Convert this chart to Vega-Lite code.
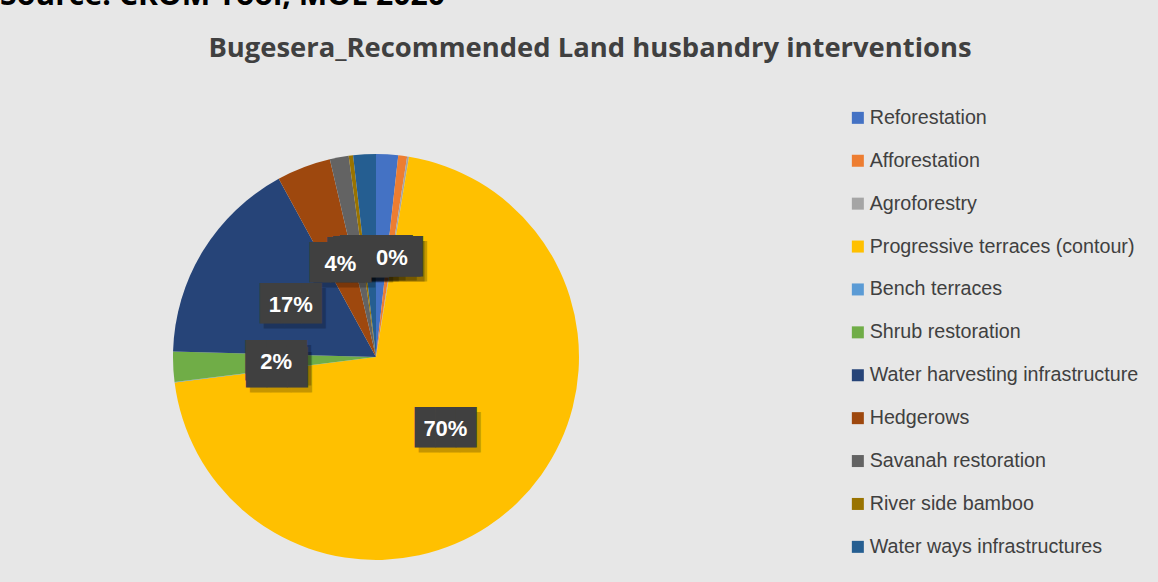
{
  "$schema": "https://vega.github.io/schema/vega-lite/v6.json",
  "autosize": "none",
  "padding": {"left": 173, "top": 154, "right": 985, "bottom": 428},
  "background": "#e7e7e7",
  "title": {
    "text": "Source: CROM Tool, MOE 2020",
    "anchor": "start",
    "frame": "group",
    "dx": -173,
    "offset": -1,
    "baseline": "alphabetic",
    "font": "Open Sans",
    "fontSize": 30.2,
    "fontWeight": "bold",
    "color": "#000000"
  },
  "hconcat": [
    {
      "width": 406,
      "height": 406,
      "title": {
        "text": "Bugesera_Recommended Land husbandry interventions",
        "anchor": "middle",
        "frame": "group",
        "dx": 214,
        "offset": 70,
        "baseline": "alphabetic",
        "font": "Open Sans",
        "fontSize": 27.4,
        "fontWeight": "bold",
        "color": "#404040"
      },
      "data": {
        "values": [
          {"n": 1, "intervention": "Reforestation", "share": 0.0175},
          {"n": 2, "intervention": "Afforestation", "share": 0.007},
          {"n": 3, "intervention": "Agroforestry", "share": 0.0015},
          {"n": 4, "intervention": "Progressive terraces (contour)", "share": 0.7035},
          {"n": 5, "intervention": "Bench terraces", "share": 0.0005},
          {"n": 6, "intervention": "Shrub restoration", "share": 0.024},
          {"n": 7, "intervention": "Water harvesting infrastructure", "share": 0.166},
          {"n": 8, "intervention": "Hedgerows", "share": 0.043},
          {"n": 9, "intervention": "Savanah restoration", "share": 0.015},
          {"n": 10, "intervention": "River side bamboo", "share": 0.0035},
          {"n": 11, "intervention": "Water ways infrastructures", "share": 0.018}
        ]
      },
      "encoding": {
        "theta": {"field": "share", "type": "quantitative", "stack": true},
        "order": {"field": "n", "type": "quantitative"}
      },
      "layer": [
        {
          "mark": {"type": "arc"},
          "encoding": {
            "color": {
              "field": "intervention",
              "type": "nominal",
              "scale": {
                "domain": ["Reforestation", "Afforestation", "Agroforestry", "Progressive terraces (contour)", "Bench terraces", "Shrub restoration", "Water harvesting infrastructure", "Hedgerows", "Savanah restoration", "River side bamboo", "Water ways infrastructures"],
                "range": ["#4472C4", "#ED7D31", "#A5A5A5", "#FFC000", "#5B9BD5", "#70AD47", "#264478", "#9E480E", "#636363", "#997300", "#255E91"]
              },
              "legend": {
                "orient": "none",
                "legendX": 675,
                "legendY": -46,
                "title": null,
                "symbolType": "square",
                "symbolSize": 144,
                "symbolStrokeWidth": 0,
                "labelFont": "Liberation Sans",
                "labelFontSize": 19.7,
                "labelColor": "#404040",
                "labelOffset": 2,
                "labelLimit": 400,
                "rowPadding": 21.9,
                "padding": 0
              }
            }
          }
        },
        {
          "mark": {"type": "text", "radius": 100, "text": "███", "font": "DejaVu Sans Mono", "fontSize": 34, "color": "#000000", "opacity": 0.22, "dx": 4, "dy": 5, "align": "center", "baseline": "middle"}
        },
        {
          "mark": {"type": "text", "radius": 100, "text": "███", "font": "DejaVu Sans Mono", "fontSize": 34, "color": "#404040", "align": "center", "baseline": "middle"}
        },
        {
          "mark": {"type": "text", "radius": 100, "font": "Liberation Sans", "fontSize": 22, "fontWeight": "bold", "color": "#ffffff", "align": "center", "baseline": "middle"},
          "encoding": {
            "text": {
              "condition": {"test": "datum.n == 3 || datum.n == 4 || datum.n == 6 || datum.n == 7 || datum.n == 8", "field": "share", "type": "quantitative", "format": ".0%"},
              "value": ""
            }
          }
        }
      ]
    }
  ],
  "config": {"view": {"stroke": null}}
}
